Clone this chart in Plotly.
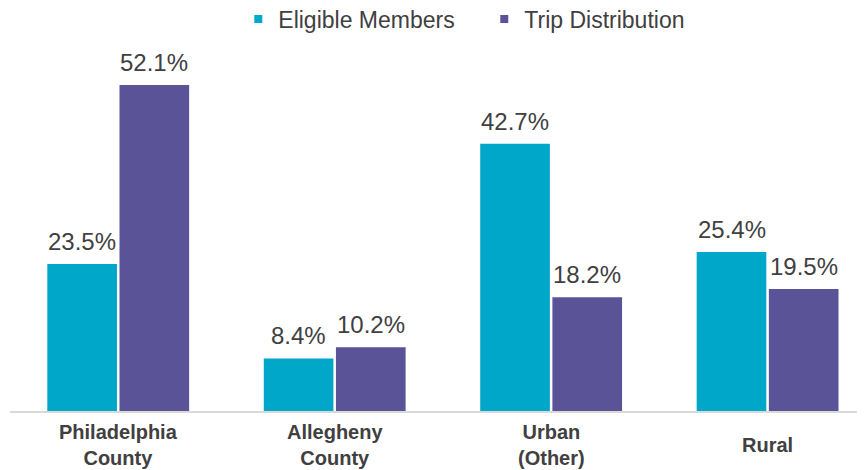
import plotly.graph_objects as go

categories = ["Philadelphia<br>County", "Allegheny<br>County", "Urban<br>(Other)", "Rural"]
eligible_members = [23.5, 8.4, 42.7, 25.4]
trip_distribution = [52.1, 10.2, 18.2, 19.5]
series_names = ["Eligible Members", "Trip Distribution"]
colors = ["#00A7C9", "#5A5397"]

FONT = "Liberation Sans, Arial, sans-serif"
TXT = "#404040"

x_idx = list(range(len(categories)))
fig = go.Figure()
for name, vals, col in zip(series_names, [eligible_members, trip_distribution], colors):
    fig.add_trace(go.Bar(x=x_idx, y=vals, name=name, marker=dict(color=col, line=dict(width=0)),
                         showlegend=False, hoverinfo="skip"))
    fig.add_trace(go.Scatter(x=[None], y=[None], mode="markers", name=name,
                             marker=dict(symbol="square", size=8, color=col)))

annotations = []
for s, (vals, shift) in enumerate(zip([eligible_members, trip_distribution], [-36, 36])):
    for i, v in enumerate(vals):
        annotations.append(dict(x=i, y=v, xref="x", yref="y", text=f"{v:.1f}%", showarrow=False,
                                xshift=shift, yanchor="bottom", yshift=7,
                                font=dict(family=FONT, size=24, color=TXT)))
for i, c in enumerate(categories):
    annotations.append(dict(x=i, y=0, xref="x", yref="y", text=f"<b>{c}</b>", showarrow=False,
                            yanchor="middle", yshift=-34,
                            font=dict(family=FONT, size=20, color=TXT)))

# page body has an 8px margin: shrink the figure so the plot lands where the reference has it
fig.update_layout(
    width=857, height=462,
    margin=dict(l=2, r=0, t=47, b=59, autoexpand=False),
    paper_bgcolor="white", plot_bgcolor="white",
    barmode="group", bargap=0.333, bargroupgap=0.035,
    font=dict(family=FONT, color=TXT),
    legend=dict(orientation="h", x=0.267, xanchor="left", yref="container", y=0.976, yanchor="middle",
                font=dict(family=FONT, size=23, color=TXT), entrywidth=201,
                bgcolor="rgba(0,0,0,0)"),
    annotations=annotations,
    xaxis=dict(range=[-0.5, 3.45], showticklabels=False, showgrid=False, zeroline=False,
               showline=True, linecolor="#D9D9D9", linewidth=2, ticks=""),
    yaxis=dict(range=[0, 56.9], showticklabels=False, showgrid=False, zeroline=False,
               showline=False),
)
fig.write_html("out.html")
